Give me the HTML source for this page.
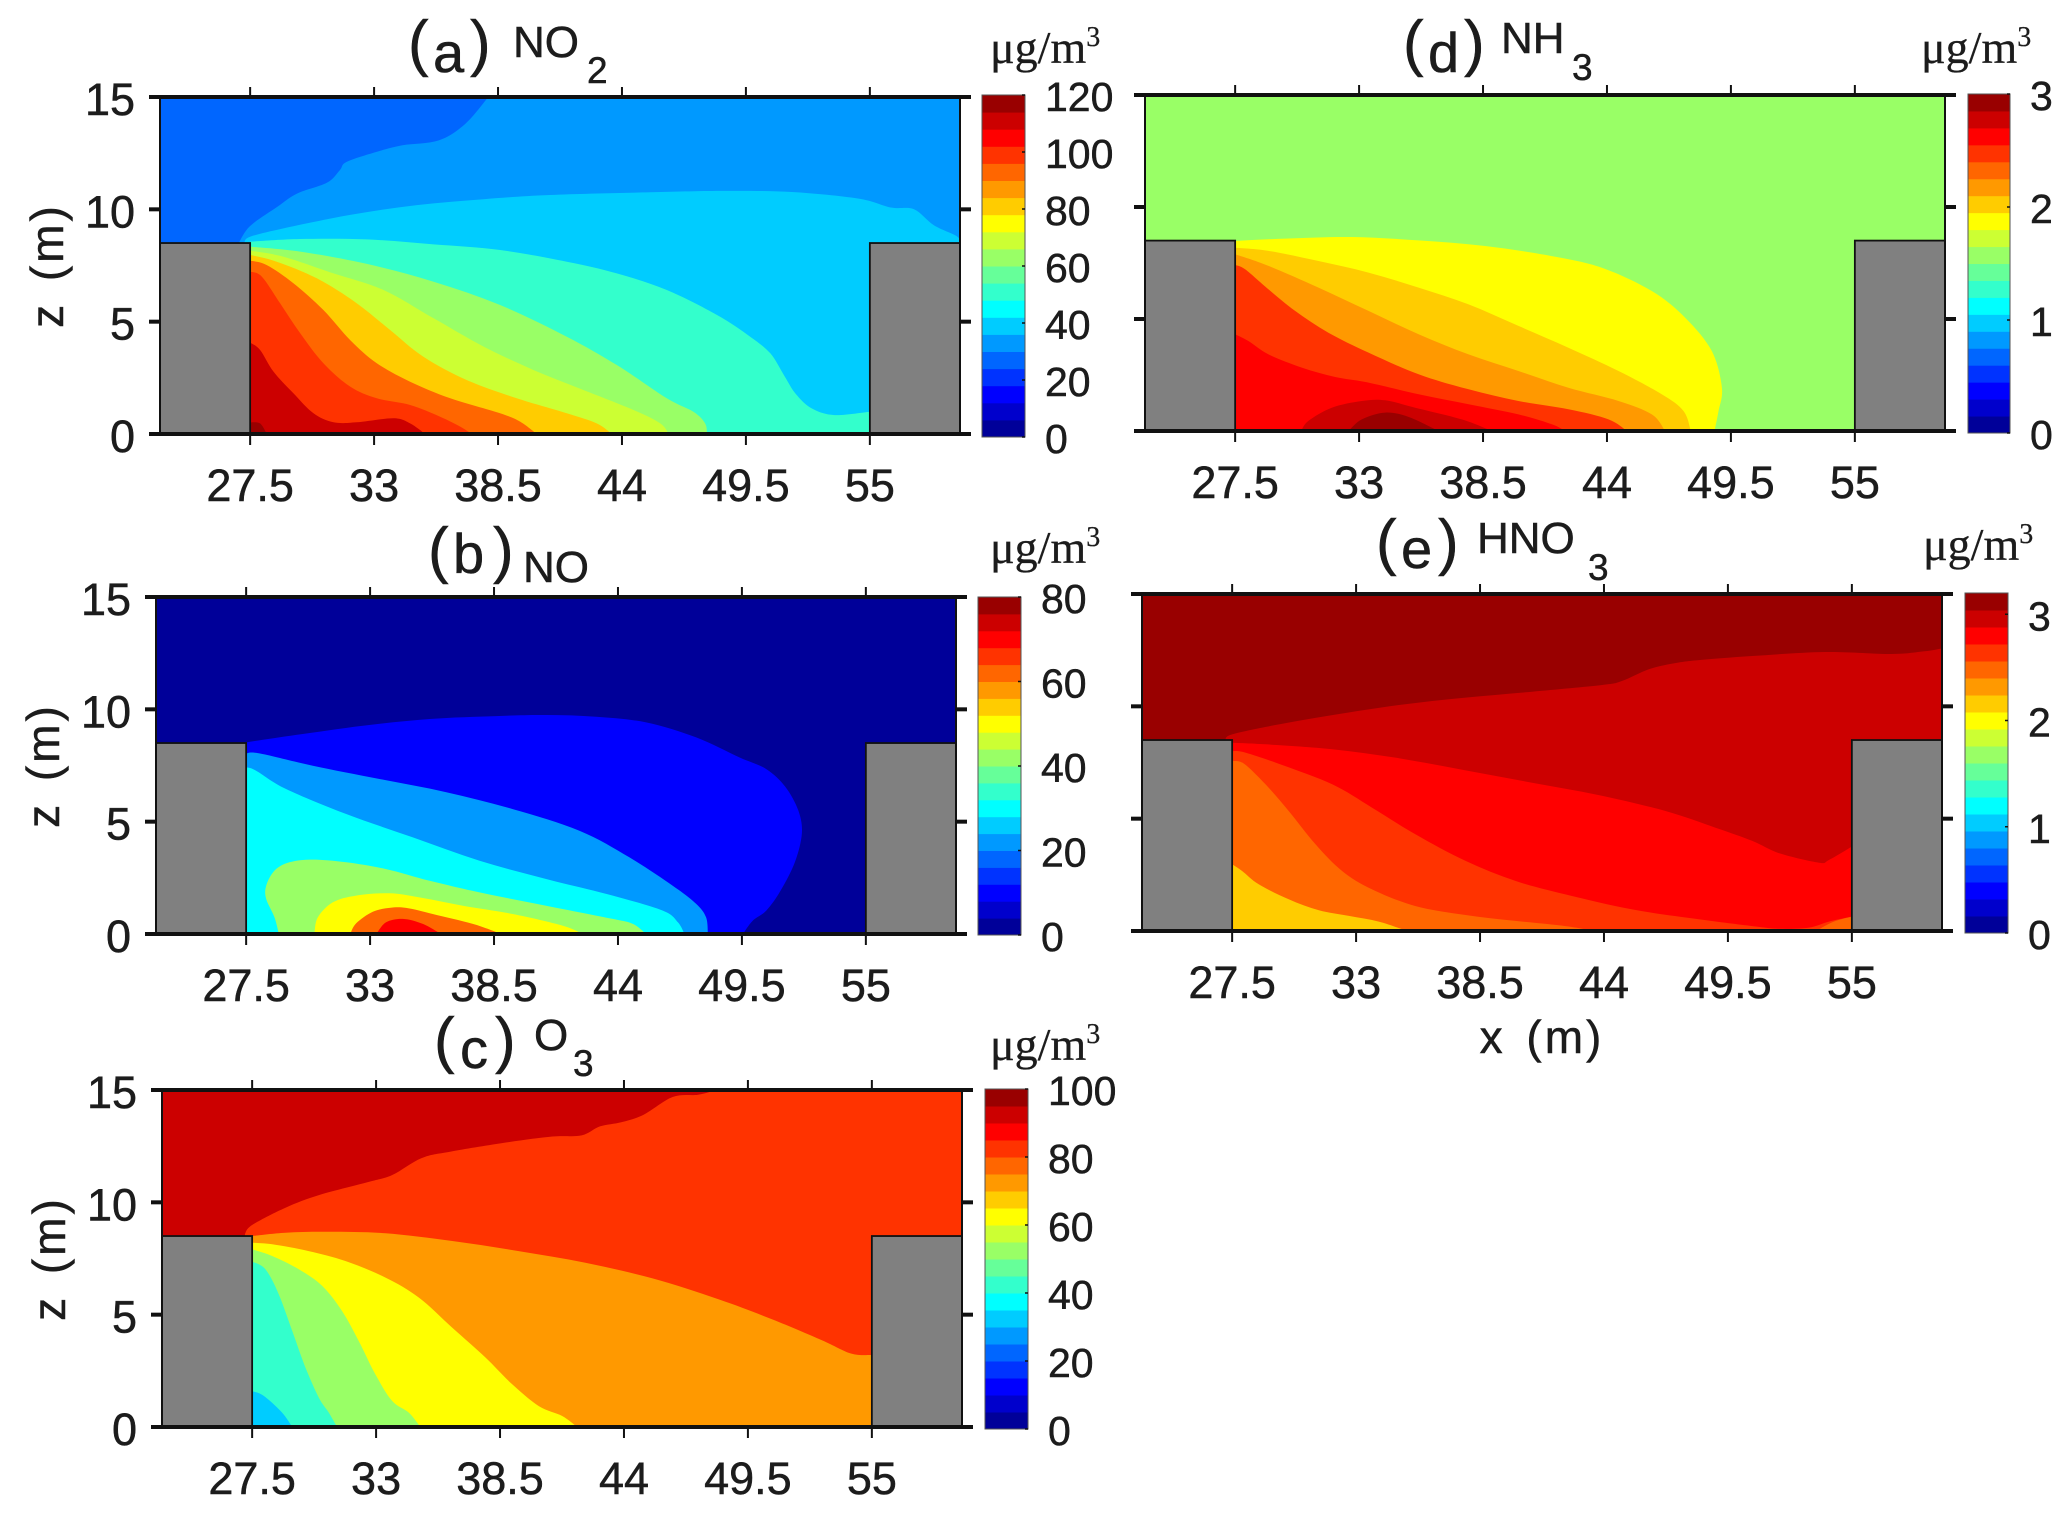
<!DOCTYPE html>
<html lang="en">
<head>
<meta charset="utf-8">
<title>Pollutant concentration contours in a street canyon</title>
<style>
html,body{margin:0;padding:0;background:#fff;width:2067px;height:1513px;overflow:hidden}
svg{display:block}
text{font-family:"Liberation Sans","Noto Sans CJK JP",sans-serif;fill:#1c1c1c;stroke:#1c1c1c;stroke-width:.5px}
text.serif{font-family:"Liberation Serif","Noto Sans CJK JP",serif;stroke-width:.3px}
</style>
</head>
<body>
<svg id="figure" xmlns="http://www.w3.org/2000/svg" width="2067" height="1513" viewBox="0 0 2067 1513">
  <g>
    <text font-size="56"><tspan x="408" y="64" font-size="62">(</tspan><tspan x="433" y="72">a</tspan><tspan x="470" y="64" font-size="62">)</tspan></text>
    <text x="513" y="57" font-size="44">NO</text>
    <text x="587" y="83" font-size="37">2</text>
  </g>
  <g>
    <text font-size="56"><tspan x="428" y="571" font-size="62">(</tspan><tspan x="453" y="573">b</tspan><tspan x="493" y="571" font-size="62">)</tspan></text>
    <text x="523" y="582" font-size="44">NO</text>
  </g>
  <g>
    <text font-size="56"><tspan x="434" y="1061" font-size="62">(</tspan><tspan x="460" y="1068">c</tspan><tspan x="495" y="1061" font-size="62">)</tspan></text>
    <text x="534" y="1050" font-size="44">O</text>
    <text x="573" y="1076" font-size="37">3</text>
  </g>
  <g>
    <text font-size="56"><tspan x="1403" y="64" font-size="62">(</tspan><tspan x="1428" y="72">d</tspan><tspan x="1464" y="64" font-size="62">)</tspan></text>
    <text x="1501" y="53" font-size="44">NH</text>
    <text x="1572" y="80" font-size="37">3</text>
  </g>
  <g>
    <text font-size="56"><tspan x="1376" y="563" font-size="62">(</tspan><tspan x="1401" y="568">e</tspan><tspan x="1438" y="563" font-size="62">)</tspan></text>
    <text x="1477" y="553" font-size="44">HNO</text>
    <text x="1588" y="580" font-size="37">3</text>
  </g>
  <text class="serif" x="990" y="63" font-size="46">μg/m<tspan dy="-17" font-size="28">3</tspan></text>
  <text class="serif" x="990" y="563" font-size="46">μg/m<tspan dy="-17" font-size="28">3</tspan></text>
  <text class="serif" x="990" y="1060" font-size="46">μg/m<tspan dy="-17" font-size="28">3</tspan></text>
  <text class="serif" x="1921" y="63" font-size="46">μg/m<tspan dy="-17" font-size="28">3</tspan></text>
  <text class="serif" x="1923" y="560" font-size="46">μg/m<tspan dy="-17" font-size="28">3</tspan></text>
  <text x="1542" y="1053" font-size="46" text-anchor="middle" letter-spacing="3" word-spacing="5">x (m)</text>
</svg>
<script>
// ---- shared axis values ----
const xTicks = [27.5, 33, 38.5, 44, 49.5, 55];
const zTicks = [0, 5, 10, 15];
const xDomain = [23.5, 59];
const zDomain = [0, 15];
const buildingHeight = 8.5;
const wallLeft = 27.5;
const wallRight = 55;

// ---- closure paths (x, z in metres) ----
const floorClose = [[27.5, 0]];
const wallFloorClose = [[55, 0], [27.5, 0]];
const topRightClose = [[59, 15], [59, 0], [27.5, 0]];
const rightSideClose = [[59, 0], [27.5, 0]];

// ---- (a) NO2 ----
const no2CbarTicks = [0, 20, 40, 60, 80, 100, 120];
const no2Max = 120;
const no2Background = 27;
const no2Values = [33, 39, 51, 63, 69, 81, 93, 99, 111, 117];
const no2C1 = [[27,8.52],[27.5,9.26],[28.7,10.11],[29.58,10.7],[30.9,11.18],[31.48,11.74],[31.78,12.11],[33.09,12.55],[34.26,12.85],[35.87,13.07],[37.05,13.81],[38.07,15]];
const no2C2 = [[27.24,8.52],[27.5,8.78],[28.98,9.15],[31.94,9.75],[34.9,10.19],[37.86,10.45],[40.81,10.64],[45.25,10.76],[48.6,10.82],[51.54,10.77],[54.47,10.48],[55.93,10.08],[56.96,10],[57.84,9.29],[58.86,8.8],[59,8.5]];
const no2C3 = [[27.5,8.56],[29.72,8.68],[32.68,8.66],[35.64,8.44],[38.59,8.19],[41.55,7.67],[43.77,7.15],[45.99,6.41],[48.21,5.3],[49.69,4.33],[50.58,3.59],[51.2,2.6],[51.7,1.8],[52.42,1.14],[53.44,0.84],[55,0.99]];
const no2C4 = [[27.5,8.34],[29.72,8.12],[32.68,7.57],[35.64,6.78],[38.59,5.74],[41.55,4.33],[43.77,3.07],[45.99,1.59],[47.17,0.99],[47.69,0.47],[47.77,0]];
const no2C5 = [[27.5,8.16],[28.98,7.89],[31.2,7.15],[33.42,6.41],[35.64,5.15],[37.86,3.89],[40.07,2.85],[42.29,1.96],[44.51,1.07],[45.7,0.47],[46.07,0]];
const no2C6 = [[27.5,7.97],[28.68,7.67],[30.46,6.93],[32.23,5.82],[33.71,4.63],[35.19,3.44],[37.12,2.4],[39.33,1.59],[41.55,0.92],[42.88,0.47],[43.55,0]];
const no2C7 = [[27.5,7.72],[28.24,7.52],[29.42,6.71],[30.75,5.52],[31.94,4.18],[33.12,3.15],[34.6,2.33],[36.38,1.59],[38.59,0.92],[39.48,0.55],[40.22,0]];
const no2C8 = [[27.5,7.23],[28.02,7],[28.83,5.82],[29.72,4.48],[30.75,3.15],[31.94,2.11],[33.12,1.59],[34.6,1.29],[35.93,0.77],[36.82,0.33],[37.34,0]];
const no2C9 = [[27.5,4.07],[27.94,3.74],[28.54,2.77],[29.42,1.81],[30.31,0.92],[31.2,0.52],[32.23,0.52],[33.86,0.7],[34.6,0.47],[35.27,0]];
const no2C10 = [[27.5,0.52],[27.94,0.47],[28.24,0]];
const no2Curves = [no2C1, no2C2, no2C3, no2C4, no2C5, no2C6, no2C7, no2C8, no2C9, no2C10];
const no2Closures = [topRightClose, rightSideClose, wallFloorClose, floorClose, floorClose, floorClose, floorClose, floorClose, floorClose, floorClose];

// ---- (b) NO ----
const noCbarTicks = [0, 20, 40, 60, 80];
const noMax = 80;
const noBackground = 2;
const noValues = [10, 22, 30, 42, 50, 62, 70];
const noC1 = [[27.5,8.53],[29.72,8.86],[32.68,9.27],[35.64,9.57],[38.59,9.7],[40.81,9.75],[43.03,9.67],[45.25,9.42],[47.47,8.75],[49.39,7.86],[50.58,7.34],[51.42,6.56],[52,5.5],[52.16,4.49],[51.85,3.2],[51.2,1.9],[50.58,1.04],[49.98,0.59],[49.54,0]];
const noC2 = [[27.5,8.04],[28.09,8.04],[30.46,7.49],[33.42,6.9],[36.38,6.31],[39.33,5.56],[42.29,4.6],[44.51,3.41],[46.43,2.15],[47.47,1.34],[47.91,0.74],[47.99,0]];
const noC3 = [[27.5,7.42],[27.94,7.27],[29.28,6.45],[31.94,5.34],[34.9,4.3],[37.86,3.26],[40.81,2.45],[43.77,1.71],[45.99,1.04],[46.66,0.52],[46.95,0]];
const noC4 = [[28.95,0],[28.76,0.74],[28.39,1.56],[28.39,2.15],[28.76,2.82],[29.42,3.19],[30.46,3.31],[31.94,3.19],[33.71,2.89],[35.64,2.37],[37.86,1.85],[40.81,1.26],[43.77,0.67],[44.66,0.45],[45.25,0]];
const noC5 = [[30.53,0],[30.68,0.74],[31.35,1.41],[32.38,1.71],[33.86,1.81],[35.19,1.63],[37.12,1.26],[39.33,0.89],[41.55,0.37],[42.44,0]];
const noC6 = [[32.12,0],[32.38,0.47],[33.12,0.99],[33.86,1.16],[34.6,1.16],[35.78,0.89],[37.56,0.45],[38.82,0]];
const noC7 = [[33.27,0],[33.71,0.52],[34.45,0.67],[35.34,0.45],[36.15,0]];
const noCurves = [noC1, noC2, noC3, noC4, noC5, noC6, noC7];
const noClosures = [floorClose, floorClose, floorClose, [], [], [], []];

// ---- (c) O3 ----
const o3CbarTicks = [0, 20, 40, 60, 80, 100];
const o3Max = 100;
const o3Background = 92.5;
const o3Values = [82.5, 72.5, 62.5, 52.5, 42.5, 32.5];
const o3C1 = [[27.18,8.59],[27.5,8.99],[28.98,9.76],[30.5,10.33],[32.76,10.93],[33.73,11.22],[35.02,11.97],[36.31,12.26],[38.89,12.68],[40.83,12.93],[42.12,12.98],[42.93,13.38],[43.9,13.57],[44.87,13.9],[46.16,14.69],[47.29,14.79],[48.09,15]];
const o3C2 = [[27.5,8.5],[28.98,8.65],[30.9,8.69],[33.42,8.62],[36.38,8.28],[39.33,7.83],[42.29,7.31],[45.25,6.62],[48.21,5.68],[50.58,4.79],[52.77,3.87],[54.07,3.27],[55,3.2]];
const o3C3 = [[27.5,8.2],[28.39,8.13],[30.01,7.83],[31.64,7.39],[33.42,6.65],[34.9,5.76],[36.38,4.42],[37.86,3.09],[39.04,1.9],[40.22,0.93],[41.26,0.49],[41.92,0]];
const o3C4 = [[27.5,7.91],[28.39,7.61],[29.57,7.02],[30.61,6.28],[31.49,5.16],[32.23,3.83],[32.97,2.34],[33.71,1.16],[34.45,0.64],[34.97,0]];
const o3C5 = [[27.5,7.36],[28.09,7.02],[28.68,5.91],[29.28,4.27],[29.87,2.64],[30.46,1.31],[30.9,0.64],[31.27,0]];
const o3C6 = [[27.5,1.6],[28.02,1.38],[28.83,0.64],[29.28,0]];
const o3Curves = [o3C1, o3C2, o3C3, o3C4, o3C5, o3C6];
const o3Closures = [topRightClose, wallFloorClose, floorClose, floorClose, floorClose, floorClose];

// ---- (d) NH3 ----
const nh3CbarTicks = [0, 1, 2, 3];
const nh3Max = 3;
const nh3Background = 1.575;
const nh3Values = [1.875, 2.025, 2.175, 2.475, 2.625, 2.775, 2.925];
const nh3C1 = [[27.5,8.48],[29.72,8.59],[32.68,8.66],[35.64,8.51],[38.59,8.26],[41.55,7.81],[43.77,7.29],[45.99,6.25],[47.47,5.06],[48.65,3.57],[49.1,1.93],[48.95,0.89],[48.77,0]];
const nh3C2 = [[27.5,8.18],[28.98,8.04],[31.2,7.59],[33.42,7.07],[35.64,6.4],[37.86,5.65],[40.07,4.69],[42.29,3.72],[44.51,2.68],[46.43,1.64],[47.4,0.89],[47.72,0]];
const nh3C3 = [[27.5,7.89],[28.98,7.37],[31.2,6.4],[33.42,5.36],[35.64,4.32],[37.86,3.42],[40.07,2.68],[42.29,1.93],[44.51,1.34],[45.99,0.74],[46.58,0]];
const nh3C4 = [[27.5,7.41],[27.94,7.22],[28.98,6.32],[30.16,5.36],[31.64,4.39],[33.42,3.5],[35.64,2.53],[37.86,1.86],[40.07,1.34],[42.29,0.97],[44.07,0.52],[44.88,0]];
const nh3C5 = [[27.5,4.32],[28.09,4.02],[28.98,3.42],[30.46,2.83],[31.94,2.41],[33.42,2.16],[35.64,1.64],[37.86,1.19],[40.07,0.74],[41.55,0.3],[42.14,0]];
const nh3C6 = [[30.43,0],[30.75,0.45],[31.79,1.04],[33.12,1.34],[34.16,1.37],[35.49,1.04],[37.56,0.52],[38.89,0]];
const nh3C7 = [[32.53,0],[33.12,0.52],[34.16,0.82],[35.19,0.63],[36.52,0]];
const nh3Curves = [nh3C1, nh3C2, nh3C3, nh3C4, nh3C5, nh3C6, nh3C7];
const nh3Closures = [floorClose, floorClose, floorClose, floorClose, floorClose, [], []];

// ---- (e) HNO3 ----
const hno3CbarTicks = [0, 1, 2, 3];
const hno3Max = 3.2;
const hno3Background = 3.12;
const hno3Values = [2.96, 2.8, 2.64, 2.48, 2.16, 2.48];
const hno3C1 = [[27.2,8.51],[27.5,8.75],[29.42,9.17],[31.94,9.61],[34.9,10.06],[37.86,10.39],[40.81,10.65],[43.92,10.95],[44.81,11.13],[45.99,11.65],[47.03,11.9],[48.21,12.06],[50.58,12.24],[53.83,12.42],[56.76,12.33],[58.22,12.45],[58.95,12.57],[59,12.6]];
const hno3C2 = [[27.5,8.38],[28.98,8.31],[31.94,8.09],[34.9,7.69],[37.86,7.15],[40.81,6.6],[43.77,6.05],[46.73,5.34],[48.95,4.6],[50.58,4.01],[51.78,3.46],[53.54,3.04],[53.98,3.16],[55,3.76]];
const hno3C3 = [[27.5,8.01],[28.09,7.94],[29.72,7.39],[31.94,6.53],[33.71,5.49],[35.64,4.3],[37.86,3.12],[40.07,2.23],[42.29,1.63],[45.25,0.96],[48.21,0.52],[50.58,0.22],[51.78,0.1],[53.1,0.15],[53.98,0.42],[55,0.64]];
const hno3C4 = [[27.5,7.57],[28.02,7.45],[28.98,6.53],[30.01,5.34],[31.2,3.86],[32.38,2.67],[33.71,1.85],[35.64,1.11],[37.86,0.71],[40.07,0.45],[42.29,0.22],[43.55,0]];
const hno3C5 = [[27.5,2.97],[27.94,2.67],[28.68,2.08],[30.01,1.41],[31.35,0.92],[32.68,0.67],[34.01,0.42],[35.27,0]];
const hno3C6 = [[53.4,0],[54.2,0.42],[55,0.64]];
const hno3Curves = [hno3C1, hno3C2, hno3C3, hno3C4, hno3C5, hno3C6];
const hno3Closures = [rightSideClose, wallFloorClose, wallFloorClose, floorClose, floorClose, [[55, 0]]];

// ---- jet colormap with 20 levels, low to high ----
const jetColors = ['#000099','#0000cc','#0000ff','#0033ff','#0066ff','#0099ff','#00ccff','#00ffff','#33ffcc','#66ff99','#99ff66','#ccff33','#ffff00','#ffcc00','#ff9900','#ff6600','#ff3300','#ff0000','#cc0000','#990000'];

const SVGNS = 'http://www.w3.org/2000/svg';
const root = document.getElementById('figure');

function mk(tag, parent) {
  const el = document.createElementNS(SVGNS, tag);
  parent.appendChild(el);
  return el;
}
function attrs(el, map) {
  for (const k in map) el.setAttribute(k, map[k]);
}
function smoothPath(pts) {
  let d = 'M' + pts[0][0].toFixed(1) + ' ' + pts[0][1].toFixed(1);
  for (let i = 0; i < pts.length - 1; i++) {
    const p0 = pts[Math.max(i - 1, 0)], p1 = pts[i], p2 = pts[i + 1], p3 = pts[Math.min(i + 2, pts.length - 1)];
    const c1x = p1[0] + (p2[0] - p0[0]) / 6, c1y = p1[1] + (p2[1] - p0[1]) / 6;
    const c2x = p2[0] - (p3[0] - p1[0]) / 6, c2y = p2[1] - (p3[1] - p1[1]) / 6;
    d += 'C' + c1x.toFixed(1) + ' ' + c1y.toFixed(1) + ' ' + c2x.toFixed(1) + ' ' + c2y.toFixed(1) + ' ' + p2[0].toFixed(1) + ' ' + p2[1].toFixed(1);
  }
  return d;
}

function drawPanel(p) {
  const sx = x => p.left + (x - xDomain[0]) / (xDomain[1] - xDomain[0]) * (p.right - p.left);
  const sz = z => p.bottom - (z - zDomain[0]) / (zDomain[1] - zDomain[0]) * (p.bottom - p.top);
  const colorOf = v => jetColors[Math.max(0, Math.min(jetColors.length - 1, Math.floor(v / p.max * jetColors.length)))];

  const g = mk('g', root);
  
  

  const clip = mk('clipPath', g);
  clip.setAttribute('id', 'clip-' + p.id);
  const clipRect = mk('rect', clip);
  attrs(clipRect, {x: p.left, y: p.top, width: p.right - p.left, height: p.bottom - p.top});

  const field = mk('g', g);
  field.setAttribute('clip-path', 'url(#clip-' + p.id + ')');
  
  

  const bg = mk('rect', field);
  
  
  attrs(bg, {x: p.left, y: p.top, width: p.right - p.left, height: p.bottom - p.top, fill: colorOf(p.background)});

  p.curves.forEach((curve, i) => {
    const px = curve.map(c => [sx(c[0]), sz(c[1])]);
    let d = smoothPath(px);
    p.closures[i].forEach(c => { d += 'L' + sx(c[0]).toFixed(1) + ' ' + sz(c[1]).toFixed(1); });
    d += 'Z';
    const band = mk('path', field);
    
    
    attrs(band, {d: d, fill: colorOf(p.values[i])});
  });

  const bLeft = mk('rect', g);
  
  
  attrs(bLeft, {x: sx(xDomain[0]), y: sz(buildingHeight), width: sx(wallLeft) - sx(xDomain[0]), height: sz(0) - sz(buildingHeight), fill: '#808080', stroke: '#111', 'stroke-width': 1.8});
  const bRight = mk('rect', g);
  
  
  attrs(bRight, {x: sx(wallRight), y: sz(buildingHeight), width: sx(xDomain[1]) - sx(wallRight), height: sz(0) - sz(buildingHeight), fill: '#808080', stroke: '#111', 'stroke-width': 1.8});

  const frame = mk('rect', g);
  
  
  attrs(frame, {x: p.left, y: p.top, width: p.right - p.left, height: p.bottom - p.top, fill: 'none', stroke: '#111', 'stroke-width': 2});

  xTicks.forEach(t => {
    const x = sx(t);
    const tickTop = mk('line', g);
    
    
    attrs(tickTop, {x1: x, x2: x, y1: p.top, y2: p.top - 10, stroke: '#111', 'stroke-width': 2});
    const tickBottom = mk('line', g);
    
    
    attrs(tickBottom, {x1: x, x2: x, y1: p.bottom, y2: p.bottom + 11, stroke: '#111', 'stroke-width': 2});
    const label = mk('text', g);
    
    
    attrs(label, {x: x, y: p.bottom + 67, 'font-size': 45, 'text-anchor': 'middle'});
    label.textContent = String(t);
  });

  zTicks.forEach(t => {
    const y = sz(t);
    const tickLeft = mk('line', g);
    
    
    attrs(tickLeft, {x1: p.left - 11, x2: p.left, y1: y, y2: y, stroke: '#111', 'stroke-width': 4});
    const tickRight = mk('line', g);
    
    
    attrs(tickRight, {x1: p.right, x2: p.right + 11, y1: y, y2: y, stroke: '#111', 'stroke-width': 4});
    if (p.showZLabels) {
      const label = mk('text', g);
      
      
      attrs(label, {x: p.left - 25, y: y + 18, 'font-size': 45, 'text-anchor': 'end'});
      label.textContent = String(t);
    }
  });

  const topLine = mk('line', g);
  
  
  attrs(topLine, {x1: p.left - 11, x2: p.right + 11, y1: p.top, y2: p.top, stroke: '#111', 'stroke-width': 4});
  const bottomLine = mk('line', g);
  
  
  attrs(bottomLine, {x1: p.left - 11, x2: p.right + 11, y1: p.bottom, y2: p.bottom, stroke: '#111', 'stroke-width': 4});

  if (p.showZLabels) {
    const title = mk('text', g);
    
    
    attrs(title, {transform: 'translate(' + (p.left - 97) + ' ' + ((p.top + p.bottom) / 2) + ') rotate(-90)', 'font-size': 46, 'text-anchor': 'middle', 'letter-spacing': 3, 'word-spacing': 5});
    title.textContent = 'z (m)';
  }

  const cb = mk('g', g);
  
  
  const cy = v => p.cbBottom - v / p.max * (p.cbBottom - p.cbTop);
  jetColors.forEach((color, i) => {
    const y0 = cy((i + 1) * p.max / jetColors.length), y1 = cy(i * p.max / jetColors.length);
    const seg = mk('rect', cb);
    
    
    attrs(seg, {x: p.cbLeft, y: y0, width: p.cbRight - p.cbLeft, height: y1 - y0 + 0.5, fill: color});
  });
  const cbFrame = mk('rect', cb);
  
  
  attrs(cbFrame, {x: p.cbLeft, y: p.cbTop, width: p.cbRight - p.cbLeft, height: p.cbBottom - p.cbTop, fill: 'none', stroke: '#555', 'stroke-width': 1});
  p.cbTicks.forEach(t => {
    const y = cy(t);
    const tick = mk('line', cb);
    
    
    attrs(tick, {x1: p.cbRight - 3, x2: p.cbRight, y1: y, y2: y, stroke: '#111', 'stroke-width': 1.5});
    const label = mk('text', cb);
    
    
    attrs(label, {x: p.cbRight + 20, y: y + 16, 'font-size': 41});
    label.textContent = String(t);
  });
}

drawPanel({id:'no2', left:160, right:960, top:97, bottom:434, showZLabels:true, cbLeft:982, cbRight:1025, cbTop:95, cbBottom:437, max:no2Max, background:no2Background, values:no2Values, curves:no2Curves, closures:no2Closures, cbTicks:no2CbarTicks});
drawPanel({id:'no', left:156, right:956, top:597, bottom:934, showZLabels:true, cbLeft:978, cbRight:1021, cbTop:597, cbBottom:935, max:noMax, background:noBackground, values:noValues, curves:noCurves, closures:noClosures, cbTicks:noCbarTicks});
drawPanel({id:'o3', left:162, right:962, top:1090, bottom:1427, showZLabels:true, cbLeft:985, cbRight:1028, cbTop:1089, cbBottom:1429, max:o3Max, background:o3Background, values:o3Values, curves:o3Curves, closures:o3Closures, cbTicks:o3CbarTicks});
drawPanel({id:'nh3', left:1145, right:1945, top:95, bottom:431, showZLabels:false, cbLeft:1968, cbRight:2010, cbTop:94, cbBottom:433, max:nh3Max, background:nh3Background, values:nh3Values, curves:nh3Curves, closures:nh3Closures, cbTicks:nh3CbarTicks});
drawPanel({id:'hno3', left:1142, right:1942, top:594, bottom:931, showZLabels:false, cbLeft:1965, cbRight:2008, cbTop:593, cbBottom:933, max:hno3Max, background:hno3Background, values:hno3Values, curves:hno3Curves, closures:hno3Closures, cbTicks:hno3CbarTicks});
</script>
</body>
</html>
